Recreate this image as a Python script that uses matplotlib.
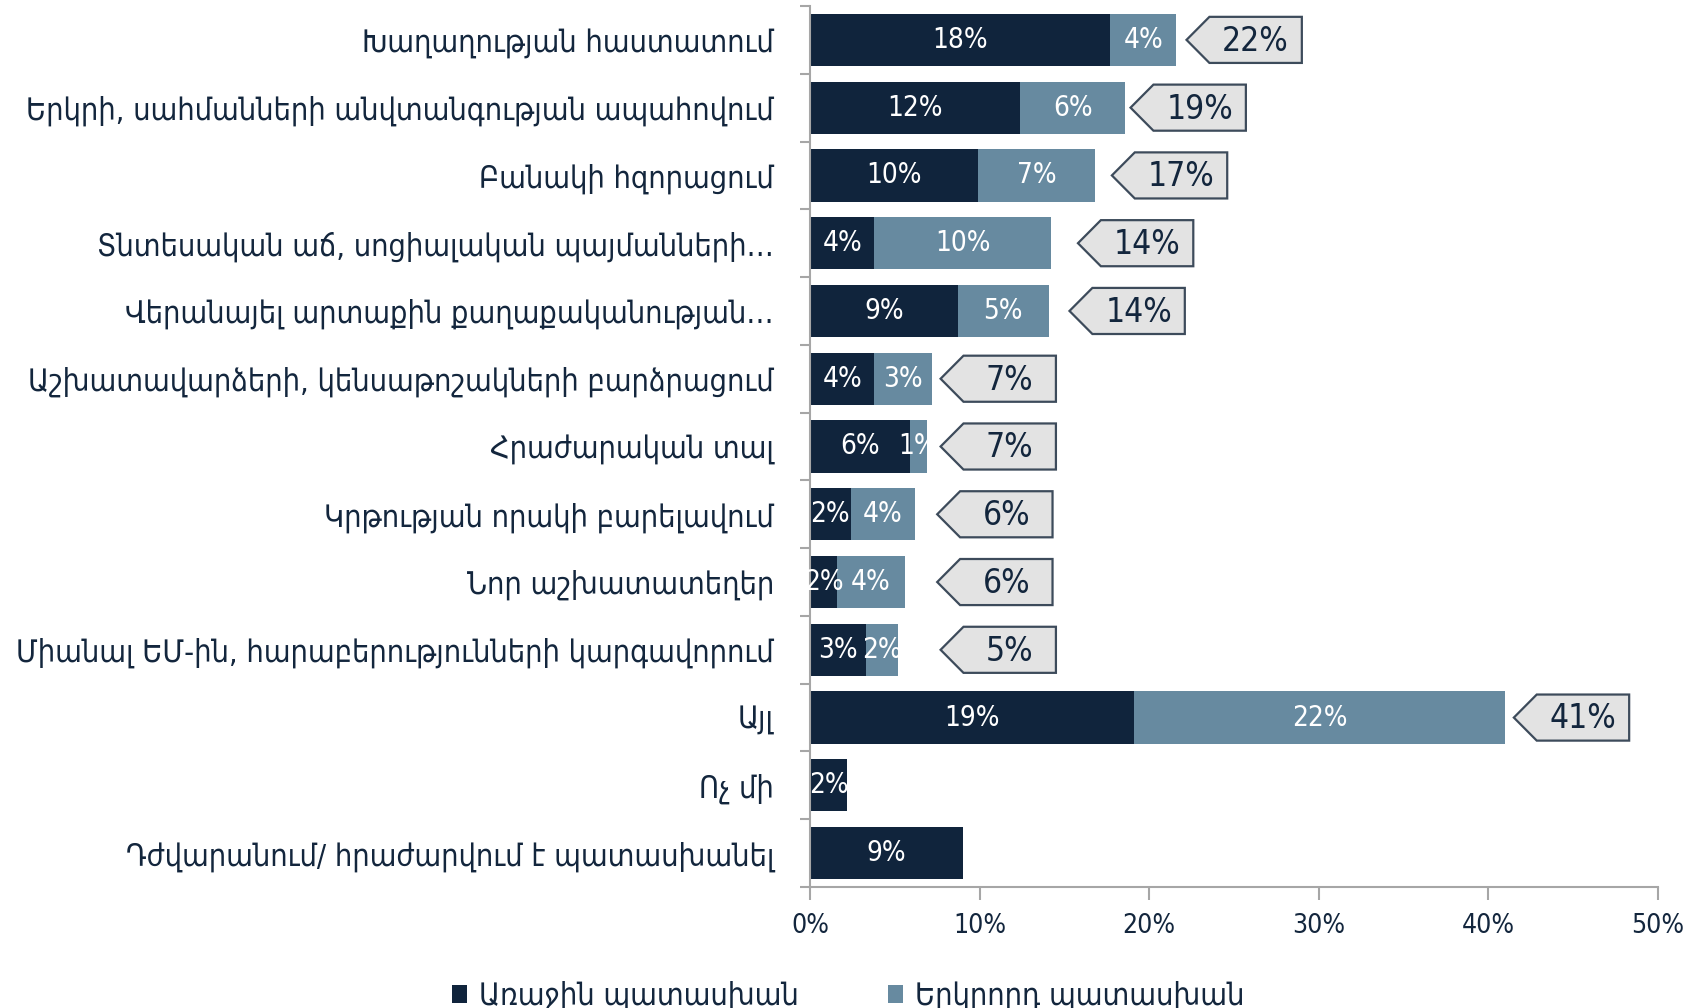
import numpy as np
import matplotlib
matplotlib.use("Agg")
import matplotlib.pyplot as plt
from matplotlib.patches import Polygon

plt.rcParams['font.family'] = ['DejaVu Sans']
plt.rcParams['font.stretch'] = 'condensed'

# data
categories = [
    "Խաղաղության հաստատում",
    "Երկրի, սահմանների անվտանգության ապահովում",
    "Բանակի հզորացում",
    "Տնտեսական աճ, սոցիալական պայմանների…",
    "Վերանայել արտաքին քաղաքականության…",
    "Աշխատավարձերի, կենսաթոշակների բարձրացում",
    "Հրաժարական տալ",
    "Կրթության որակի բարելավում",
    "Նոր աշխատատեղեր",
    "Միանալ ԵՄ-ին, հարաբերությունների կարգավորում",
    "Այլ",
    "Ոչ մի",
    "Դժվարանում/ հրաժարվում է պատասխանել",
]
first_answer = [17.7, 12.4, 9.9, 3.8, 8.7, 3.8, 5.9, 2.4, 1.6, 3.3, 19.1, 2.2, 9.0]
second_answer = [3.9, 6.2, 6.9, 10.4, 5.4, 3.4, 1.0, 3.8, 4.0, 1.9, 21.9, 0, 0]
series_names = ["Առաջին պատասխան", "Երկրորդ պատասխան"]
x_ticks = [0, 10, 20, 30, 40, 50]

# layout: gap between bar end and callout tip (in % units)
callout_gap = [0.6, 0.3, 1.0, 1.6, 1.2, 0.5, 0.8, 1.3, 1.9, 2.5, 0.5, None, None]

DARK = '#10243c'
LIGHT = '#678aa0'
GRID = '#a6a6a6'
TXT = '#13263d'

fig = plt.figure(figsize=(17.03, 10.08), dpi=100)
ax = fig.add_axes([810 / 1703, 121 / 1008, 848 / 1703, 881 / 1008])

y = np.arange(len(categories))
first = np.array(first_answer)
second = np.array(second_answer)
total = first + second

bars1 = ax.barh(y, first, height=0.77, color=DARK, label=series_names[0])
bars2 = ax.barh(y, second, left=first, height=0.77, color=LIGHT, label=series_names[1])

# labels inside the segments, clipped to the segment
for bars, vals, lefts in ((bars1, first, np.zeros_like(first)), (bars2, second, first)):
    for b, v, l, yy in zip(bars, vals, lefts, y):
        if v <= 0:
            continue
        t = ax.text(l + v / 2, yy, f"{round(v):.0f}%", ha='center', va='center',
                    color='white', fontsize=20)
        t.set_clip_path(b)

# arrow-shaped callouts with totals
w, tip, hh = 6.8, 1.35, 0.34
for yy, tot, gap, s in zip(y, total, callout_gap, second):
    if gap is None or s <= 0:
        continue
    x0 = tot + gap
    pts = [(x0, yy), (x0 + tip, yy - hh), (x0 + w, yy - hh),
           (x0 + w, yy + hh), (x0 + tip, yy + hh)]
    ax.add_patch(Polygon(pts, closed=True, facecolor='#e3e3e3', edgecolor='#3d4b5b',
                         linewidth=1.6, clip_on=False, zorder=3))
    ax.text(x0 + tip + (w - tip) / 2, yy + 0.02, f"{round(tot):.0f}%", ha='center',
            va='center', color=TXT, fontsize=24, zorder=4, clip_on=False)

ax.set_xlim(0, 50)
ax.set_ylim(len(categories) - 0.5, -0.5)
ax.set_xticks(x_ticks, labels=[f"{t}%" for t in x_ticks])
ax.set_yticks(y, labels=categories)
ax.set_yticks(np.arange(-0.5, len(categories), 1), minor=True)
ax.tick_params(axis='y', which='major', length=0, pad=26, labelsize=22, labelcolor=TXT)
ax.tick_params(axis='y', which='minor', length=7, width=1.5, color=GRID)
ax.tick_params(axis='x', length=9, width=1.5, color=GRID, labelsize=19,
               labelcolor=TXT, pad=10)

for side in ('top', 'right'):
    ax.spines[side].set_visible(False)
for side in ('left', 'bottom'):
    ax.spines[side].set_color(GRID)
    ax.spines[side].set_linewidth(1.5)

fig.legend(handles=[bars1, bars2], labels=series_names, loc='center',
           bbox_to_anchor=(0.498, 0.012), ncol=2, frameon=False, fontsize=22,
           handlelength=0.5, handleheight=0.5, handletextpad=0.4, columnspacing=2.9,
           labelcolor=TXT)

fig.savefig('out.png', dpi=100)
